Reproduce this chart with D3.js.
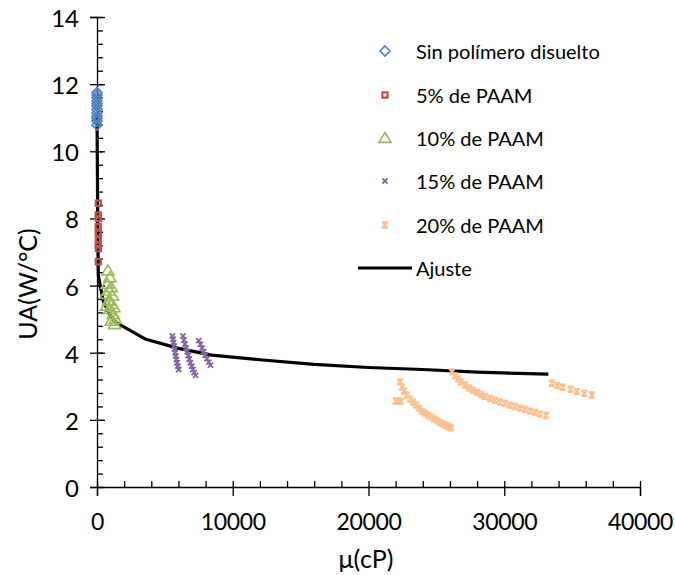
<!DOCTYPE html>
<html><head><meta charset="utf-8">
<script src="https://cdn.jsdelivr.net/npm/d3@7"></script>
<style>body{margin:0;background:#fff}svg{display:block}text{font-family:Lato,"Open Sans",sans-serif;fill:#000}</style>
</head><body><svg id="c" width="675" height="575"></svg>
<script>
// ---- data ----
const xTicks = [0, 10000, 20000, 30000, 40000];
const yTicks = [0, 2, 4, 6, 8, 10, 12, 14];
const seriesNames = ["Sin polímero disuelto", "5% de PAAM", "10% de PAAM", "15% de PAAM", "20% de PAAM", "Ajuste"];

const sinMu = [1, 1, 1, 1, 1, 1, 1, 1, 1, 1, 1, 1];
const sinUA = [11.75, 11.68, 11.6, 11.5, 11.42, 11.35, 11.25, 11.15, 11.05, 10.98, 10.9, 10.78];

const p5Mu = [100, 95, 105, 90, 100, 110, 95, 105, 100];
const p5UA = [8.45, 8.1, 8.0, 7.75, 7.56, 7.36, 7.21, 7.1, 6.71];

const p10Mu = [800, 950, 750, 1050, 900, 650, 1150, 850, 1100, 700, 1250, 950, 1200, 1350, 1050, 1300];
const p10UA = [6.45, 6.25, 6.05, 5.95, 5.85, 5.75, 5.7, 5.55, 5.45, 5.4, 5.35, 5.3, 5.15, 5.0, 4.95, 4.85];

const p15Mu = [5550, 5600, 5640, 5680, 5720, 5760, 5800, 5850, 5900, 5960, 6020,
               6330, 6400, 6480, 6560, 6640, 6720, 6800, 6880, 6970, 7060, 7160, 7260,
               7500, 7620, 7740, 7860, 7980, 8100, 8230, 8360];
const p15UA = [4.5, 4.4, 4.3, 4.2, 4.1, 4.0, 3.9, 3.8, 3.7, 3.6, 3.5,
               4.5, 4.38, 4.26, 4.14, 4.03, 3.92, 3.81, 3.7, 3.6, 3.5, 3.41, 3.33,
               4.36, 4.25, 4.14, 4.03, 3.92, 3.82, 3.72, 3.63];

const p20Mu = [22000, 22200, 22400,
               22320, 22470, 22620, 22840, 23060, 23280, 23500, 23720, 23940, 24160, 24380, 24600, 24830, 25050, 25270, 25490, 25710, 25930, 26080,
               26150, 26370, 26590, 26810, 27110, 27400, 27700, 27990, 28290, 28580, 28950, 29320, 29690, 30060, 30420, 30790, 31160, 31530, 31900, 32260, 32630, 33080,
               33500, 33910, 34300, 34890, 35340, 35900, 36440];
const p20UA = [2.56, 2.56, 2.55,
               3.13, 2.98, 2.86, 2.74, 2.62, 2.53, 2.44, 2.35, 2.26, 2.2, 2.14, 2.09, 2.03, 1.97, 1.92, 1.88, 1.83, 1.79, 1.76,
               3.43, 3.31, 3.22, 3.13, 3.04, 2.95, 2.89, 2.82, 2.76, 2.7, 2.64, 2.58, 2.53, 2.49, 2.44, 2.4, 2.35, 2.31, 2.26, 2.22, 2.17, 2.13,
               3.09, 3.02, 2.97, 2.91, 2.84, 2.79, 2.74];

const fitMu = [1, 60, 100, 450, 950, 1450, 3540, 6000, 8450, 12000, 16000, 20000, 24000, 28000, 33250];
const fitUA = [11.0, 7.6, 6.3, 5.55, 5.12, 4.89, 4.41, 4.13, 3.93, 3.79, 3.65, 3.56, 3.5, 3.42, 3.36];

const colors = ["#4F81BD", "#C0504D", "#9BBB59", "#8064A2", "#FAC090", "#000000"];

// ---- chart ----
const svg = d3.select("#c");
const x = d3.scaleLinear().domain([0, 40000]).range([97, 640]);
const y = d3.scaleLinear().domain([0, 14]).range([487, 17]);

const xMinor = d3.range(0, 40001, 2000);
const yMinor = d3.range(0, 14.001, 0.4);

// fit line
const line = d3.line().x(d => x(d[0])).y(d => y(d[1]));
svg.append("path").datum(fitMu.map((m, i) => [m, fitUA[i]]))
  .attr("d", line).attr("fill", "none").attr("stroke", colors[5]).attr("stroke-width", 3.2)
  .attr("stroke-linejoin", "round");

// axes
const gy = svg.append("g").attr("transform", "translate(97,0)");
gy.call(d3.axisLeft(y).tickValues(yTicks).tickSize(7).tickPadding(11).tickFormat(d3.format("d")));
svg.append("g").attr("transform", "translate(97,0)")
  .call(d3.axisRight(y).tickValues(yMinor).tickSize(6).tickFormat(""))
  .select(".domain").remove();
svg.append("g").attr("transform", "translate(97,0)")
  .call(d3.axisRight(y).tickValues(yTicks).tickSize(8).tickFormat(""))
  .select(".domain").remove();

const gx = svg.append("g").attr("transform", "translate(0,487)");
gx.call(d3.axisBottom(x).tickValues(xTicks).tickSize(9).tickPadding(8).tickFormat(d3.format("d")));
svg.append("g").attr("transform", "translate(0,487)")
  .call(d3.axisTop(x).tickValues(xMinor).tickSize(6).tickFormat(""))
  .select(".domain").remove();

svg.selectAll(".domain").attr("stroke", "#000").attr("stroke-width", 1.3);
svg.selectAll(".tick line").attr("stroke", "#000").attr("stroke-width", 1.3);
gy.selectAll("text").attr("font-size", 24).attr("font-family", "Lato").attr("dy", null).attr("dominant-baseline", "central");
gx.selectAll("text").attr("font-size", 23).attr("font-family", "Lato").attr("letter-spacing", -0.3)
  .attr("y", 34).attr("dy", null).attr("dominant-baseline", "central");

// axis titles
svg.append("text").attr("x", 366).attr("y", 558).attr("text-anchor", "middle")
  .attr("dominant-baseline", "central").attr("font-size", 25).text("μ(cP)");
svg.append("text").attr("transform", "translate(27,284) rotate(-90)").attr("text-anchor", "middle")
  .attr("dominant-baseline", "central").attr("font-size", 25).text("UA(W/°C)");

// marker shapes
const shapes = {
  diamond: s => `M0,${-s}L${s},0L0,${s}L${-s},0Z`,
  square: s => `M${-s},${-s}H${s}V${s}H${-s}Z`,
  triangle: s => `M0,${-s}L${s * 1.1},${s * 0.8}H${-s * 1.1}Z`,
  cross: s => `M${-s},${-s}L${s},${s}M${s},${-s}L${-s},${s}`,
  star: s => `M${-s},${-s}L${s},${s}M${s},${-s}L${-s},${s}M${-s},${-s}H${s}M${-s},${s}H${s}`
};
const series = [
  { mu: sinMu, ua: sinUA, shape: "diamond", size: 5, sw: 1.6 },
  { mu: p5Mu, ua: p5UA, shape: "square", size: 2.6, sw: 2.2 },
  { mu: p10Mu, ua: p10UA, shape: "triangle", size: 5.5, sw: 1.6 },
  { mu: p15Mu, ua: p15UA, shape: "cross", size: 2.6, sw: 1.8 },
  { mu: p20Mu, ua: p20UA, shape: "star", size: 2.8, sw: 1.8 }
];
series.forEach((s, si) => {
  svg.append("g").selectAll("path").data(s.mu.map((m, i) => [m, s.ua[i]])).join("path")
    .attr("transform", d => `translate(${x(d[0])},${y(d[1])})`)
    .attr("d", shapes[s.shape](s.size)).attr("fill", "none")
    .attr("stroke", colors[si]).attr("stroke-width", s.sw);
});

// legend
const legY = [51, 95, 138, 181, 225, 268];
const lg = svg.append("g");
series.forEach((s, si) => {
  lg.append("path").attr("transform", `translate(385,${legY[si]})`)
    .attr("d", shapes[s.shape](s.size)).attr("fill", "none")
    .attr("stroke", colors[si]).attr("stroke-width", s.sw);
});
lg.append("line").attr("x1", 358).attr("x2", 412).attr("y1", legY[5]).attr("y2", legY[5])
  .attr("stroke", "#000").attr("stroke-width", 3.2);
seriesNames.forEach((n, i) => {
  lg.append("text").attr("x", 416).attr("y", legY[i]).attr("dominant-baseline", "central")
    .attr("font-size", 20).text(n);
});
</script></body></html>
